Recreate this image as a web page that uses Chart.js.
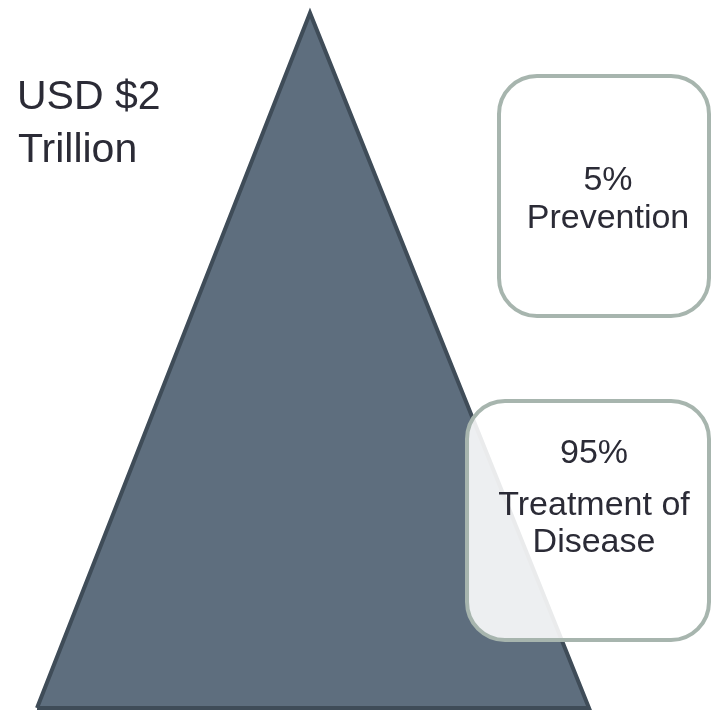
<!DOCTYPE html>
<html>
<head>
<meta charset="utf-8">
<script src="https://cdn.jsdelivr.net/npm/chart.js@4.4.1/dist/chart.umd.min.js"></script>
<style>
    html, body { margin: 0; padding: 0; background: #ffffff; }
    #wrap { width: 712px; height: 711px; }
</style>
</head>
<body>
<div id="wrap"><canvas id="pyramid" width="712" height="711"></canvas></div>
<script>
// Spending split
const totalLabel = ['USD $2', 'Trillion'];
const shareValues = [5, 95];
const shareLabels = [['Prevention'], ['Treatment of', 'Disease']];

// Pyramid outline (chart units)
const pyramidX = [37, 310, 589, 37];
const pyramidY = [708, 13, 708, 708];

// Text / box styling
const textColor = '#2b2b36';
const fontFamily = '"Liberation Sans", Arial, sans-serif';
const boxStroke = '#a7b5ae';

// Callout boxes with their text anchors
const boxes = [
    { x0: 499, y0: 76, x1: 709, y1: 316, cx: 608, valueY: 190, labelY: 228, gap: 38, fill: '#ffffff' },
    { x0: 467, y0: 401, x1: 709, y1: 640, cx: 594, valueY: 463, labelY: 515, gap: 37, fill: 'rgba(255,255,255,0.89)' }
];

function roundRect(ctx, x0, y0, x1, y1, r) {
    ctx.beginPath();
    ctx.moveTo(x0 + r, y0);
    ctx.lineTo(x1 - r, y0);
    ctx.arcTo(x1, y0, x1, y0 + r, r);
    ctx.lineTo(x1, y1 - r);
    ctx.arcTo(x1, y1, x1 - r, y1, r);
    ctx.lineTo(x0 + r, y1);
    ctx.arcTo(x0, y1, x0, y1 - r, r);
    ctx.lineTo(x0, y0 + r);
    ctx.arcTo(x0, y0, x0 + r, y0, r);
    ctx.closePath();
}

const calloutPlugin = {
    id: 'callouts',
    afterDatasetsDraw(chart) {
        const ctx = chart.ctx;
        const xs = chart.scales.x;
        const ys = chart.scales.y;
        ctx.save();

        // total label at top left
        ctx.fillStyle = textColor;
        ctx.font = '41px ' + fontFamily;
        ctx.textAlign = 'left';
        ctx.textBaseline = 'alphabetic';
        ctx.fillText(totalLabel[0], xs.getPixelForValue(17), ys.getPixelForValue(109));
        ctx.fillText(totalLabel[1], xs.getPixelForValue(18), ys.getPixelForValue(162));

        boxes.forEach((b, i) => {
            const x0 = xs.getPixelForValue(b.x0), x1 = xs.getPixelForValue(b.x1);
            const y0 = ys.getPixelForValue(b.y0), y1 = ys.getPixelForValue(b.y1);
            roundRect(ctx, x0, y0, x1, y1, 38);
            ctx.fillStyle = b.fill;
            ctx.fill();
            ctx.lineWidth = 4;
            ctx.strokeStyle = boxStroke;
            ctx.stroke();

            ctx.fillStyle = textColor;
            ctx.font = '34px ' + fontFamily;
            ctx.textAlign = 'center';
            const cx = xs.getPixelForValue(b.cx);
            ctx.fillText(shareValues[i] + '%', cx, ys.getPixelForValue(b.valueY));
            shareLabels[i].forEach((line, j) => {
                ctx.fillText(line, cx, ys.getPixelForValue(b.labelY + j * b.gap));
            });
        });
        ctx.restore();
    }
};

new Chart(document.getElementById('pyramid'), {
    type: 'scatter',
    data: {
        datasets: [{
            data: pyramidX.map((x, i) => ({ x: x, y: pyramidY[i] })),
            showLine: true,
            fill: 'shape',
            backgroundColor: '#5e6e7e',
            borderColor: '#3f4c58',
            borderWidth: 4,
            borderJoinStyle: 'miter',
            pointRadius: 0,
            pointHoverRadius: 0,
            tension: 0
        }]
    },
    options: {
        responsive: false,
        animation: false,
        layout: { padding: 0 },
        scales: {
            x: { type: 'linear', min: 0, max: 712, display: false },
            y: { type: 'linear', min: 0, max: 711, reverse: true, display: false }
        },
        plugins: { legend: { display: false }, tooltip: { enabled: false } },
        events: []
    },
    plugins: [calloutPlugin]
});
</script>
</body>
</html>
